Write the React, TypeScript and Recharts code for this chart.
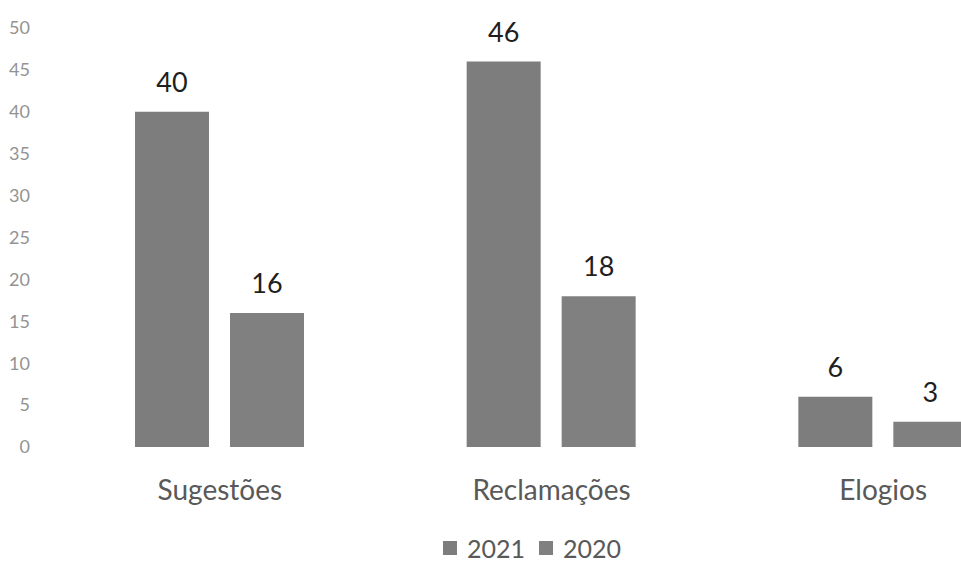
import { Bar, BarChart, XAxis, YAxis, LabelList } from "recharts";

const categorias = ["Sugestões", "Reclamações", "Elogios"];
const valores2021 = [40, 46, 6];
const valores2020 = [16, 18, 3];
const ticksY = [0, 5, 10, 15, 20, 25, 30, 35, 40, 45, 50];
const series = [
  { chave: "ano2021", nome: "2021", cor: "#7d7d7d" },
  { chave: "ano2020", nome: "2020", cor: "#808080" },
];

const dados = categorias.map((categoria, i) => ({
  categoria,
  ano2021: valores2021[i],
  ano2020: valores2020[i],
}));

const fonte = "Lato, 'Open Sans', sans-serif";

export default function App() {
  return (
    <div
      style={{
        position: "absolute",
        top: 0,
        left: 0,
        width: 961,
        height: 562,
        overflow: "hidden",
        background: "#fff",
      }}
    >
      <BarChart
        width={1060}
        height={562}
        data={dados}
        margin={{ top: 28, right: 11, left: 0, bottom: 55 }}
        barSize={74}
        barGap={21}
      >
        <YAxis
          width={54}
          domain={[0, 50]}
          ticks={ticksY}
          tickLine={false}
          axisLine={false}
          tickSize={0}
          tickMargin={24}
          tick={{ fill: "#939393", fontSize: 18, fontFamily: fonte }}
        />
        <XAxis
          dataKey="categoria"
          tickLine={false}
          axisLine={false}
          tickSize={0}
          tickMargin={33}
          height={60}
          tick={{ fill: "#595959", fontSize: 28, fontFamily: fonte }}
        />
        {series.map((s) => (
          <Bar key={s.chave} dataKey={s.chave} name={s.nome} fill={s.cor} isAnimationActive={false}>
            <LabelList
              dataKey={s.chave}
              position="top"
              offset={20}
              style={{ fill: "#1f1f1f", fontSize: 27, fontFamily: fonte }}
            />
          </Bar>
        ))}
      </BarChart>
      {/* legenda */}
      <div
        style={{
          position: "absolute",
          top: 535,
          left: 443,
          display: "flex",
          alignItems: "center",
          gap: 14,
          fontFamily: fonte,
        }}
      >
        {series.map((s) => (
          <div key={s.nome} style={{ display: "flex", alignItems: "center", gap: 10 }}>
            <span style={{ width: 14, height: 14, background: s.cor, display: "inline-block" }} />
            <span style={{ fontSize: 25, color: "#595959", lineHeight: "26px" }}>{s.nome}</span>
          </div>
        ))}
      </div>
    </div>
  );
}
